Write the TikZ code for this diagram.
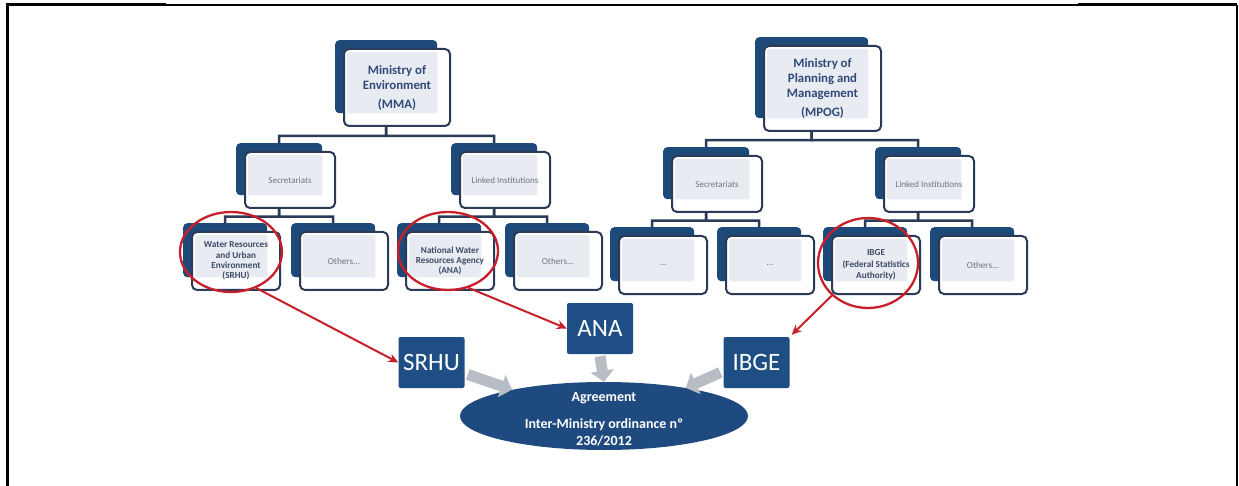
\documentclass[tikz,border=0pt]{standalone}
\usepackage{fontspec}
\setmainfont{Carlito}
\usetikzlibrary{shapes.geometric,arrows.meta,calc}
\definecolor{backblue}{HTML}{1E4A7A}
\definecolor{frontline}{HTML}{2B3B57}
\definecolor{panelc}{HTML}{E8EBF1}
\definecolor{tone}{HTML}{2F4A78}
\definecolor{ttwo}{HTML}{6B7585}
\definecolor{tthree}{HTML}{3D4B66}
\definecolor{sqblue}{HTML}{1F4E85}
\definecolor{ellblue}{HTML}{1F4A80}
\definecolor{greyarr}{HTML}{B8BCC4}
\definecolor{redc}{HTML}{C8202A}
\tikzset{
  backbox/.style={fill=backblue, rounded corners=4pt, inner sep=0pt, draw=none},
  frontbox/.style={fill=white, draw=frontline, line width=2pt, rounded corners=5pt, inner sep=0pt},
  lone/.style={font=\fontsize{12.8}{15}\selectfont\bfseries, text=tone},
  ltwo/.style={font=\fontsize{9}{11}\selectfont, text=ttwo},
  lthreeb/.style={font=\fontsize{9.2}{10.2}\selectfont\bfseries, text=tthree},
  lthree/.style={font=\fontsize{9.2}{10.2}\selectfont, text=ttwo},
  conn/.style={draw=frontline, line width=2.5pt},
  redcirc/.style={ellipse, draw=redc, line width=2.3pt, inner sep=0pt},
  redarrow/.style={draw=redc, line width=2pt, -{Stealth[length=10pt,width=9pt]}},
  sqbox/.style={fill=sqblue, rounded corners=2pt, text=white, font=\fontsize{25}{28}\selectfont, inner sep=0pt, minimum width=66pt, minimum height=51pt},
  garrow/.style={draw=greyarr, line width=11pt, -{Triangle[width=23pt,length=11pt]}},
}
\newcommand\orgbox[7]{%
  \node[backbox, minimum width=#4pt, minimum height=#5pt, anchor=north west] (#1b) at (#2,#3) {};
  \node[frontbox, minimum width=#4pt+4pt, minimum height=#5pt+4pt, anchor=north west] (#1f) at (#2+8,#3+8) {};
  \fill[panelc, rounded corners=1.5pt] ([shift={(4pt,-4pt)}]#1f.north west) rectangle (#1b.south east);
  \node[#6, align=center, inner sep=0pt] (#1) at (#1f.center) {#7};
}
\newcommand\orglink[2]{%
  \coordinate (#1o) at (#1b.center |- #1f.south);
  \draw[conn] (#1o) -- ($(#1o)!0.55!(#1o |- #2b.north)$) -| (#2b.north);
}
\begin{document}
\begin{tikzpicture}[x=1pt,y=-1pt]
\useasboundingbox (0,0) rectangle (1239,486);
% frame
\draw[line width=3pt] (7,486) -- (7,5) -- (166,5);
\draw[line width=1.2pt] (166,5) -- (1078,5);
\draw[line width=3pt] (1078,5) -- (1237,5);
\draw[line width=2pt] (1237,5) -- (1237,486);

% level 1
\orgbox{mma}{335}{40}{102}{73}{lone}{Ministry of\\Environment\\[4pt](MMA)}
\orgbox{mpog}{755}{37}{113}{81}{lone}{Ministry of\\Planning and\\Management\\[4pt](MPOG)}
% level 2
\orgbox{secl}{236}{143}{86}{52}{ltwo}{Secretariats}
\orgbox{linl}{451}{143}{86}{52}{ltwo}{Linked Institutions}
\orgbox{secr}{663}{147}{86}{52}{ltwo}{Secretariats}
\orgbox{linr}{875}{147}{86}{52}{ltwo}{Linked Institutions}
% level 3
\orgbox{srhu}{183}{223}{84}{54}{lthreeb}{Water Resources\\and Urban\\Environment\\(SRHU)}
\orgbox{otha}{291}{223}{84}{54}{lthree}{Others...}
\orgbox{ana}{397}{223}{84}{54}{lthreeb}{National Water\\Resources Agency\\(ANA)}
\orgbox{othb}{505}{223}{84}{54}{lthree}{Others...}
\orgbox{dota}{610}{227}{84}{54}{lthree}{...}
\orgbox{dotb}{717}{227}{84}{54}{lthree}{...}
\orgbox{ibge}{823}{227}{84}{54}{lthreeb}{IBGE\\[2pt](Federal Statistics\\[1pt]Authority)}
\orgbox{othc}{930}{227}{84}{54}{lthree}{Others...}

% connectors
\orglink{mma}{secl}
\orglink{mma}{linl}
\orglink{mpog}{secr}
\orglink{mpog}{linr}
\orglink{secl}{srhu}
\orglink{secl}{otha}
\orglink{linl}{ana}
\orglink{linl}{othb}
\orglink{secr}{dota}
\orglink{secr}{dotb}
\orglink{linr}{ibge}
\orglink{linr}{othc}

% red circles
\node[redcirc, minimum width=102pt, minimum height=80pt] (ca) at (231,252) {};
\node[redcirc, minimum width=100pt, minimum height=78pt] (cb) at (448,251) {};
\node[redcirc, minimum width=100pt, minimum height=90pt] (cc) at (868,263) {};

% squares
\node[sqbox] (sqsrhu) at (431.5,362.5) {SRHU};
\node[sqbox] (sqana) at (600,328.5) {ANA};
\node[sqbox] (sqibge) at (756.5,362.5) {IBGE};

% red arrows
\draw[redarrow] (ca.-55) -- (sqsrhu.west);
\draw[redarrow] (cb.-61) -- (sqana.west);
\draw[redarrow] (cc.-138) -- ([xshift=2pt,yshift=2pt]sqibge.north east);

% ellipse
\node[ellipse, fill=ellblue, minimum width=288pt, minimum height=68pt, inner sep=0pt] (agr) at (604,416) {};
% grey arrows
\draw[garrow] ([xshift=3pt,yshift=-12pt]sqsrhu.east) -- (agr.164);
\draw[garrow] (sqana.south) ++(0,2) -- (agr.north);
\draw[garrow] ([xshift=-3pt,yshift=-10pt]sqibge.west) -- (agr.19);
\node[text=white, font=\fontsize{14}{17}\selectfont\bfseries, align=center, inner sep=0pt] (agrtext) at ([yshift=-3pt]agr.center) {Agreement\\[10pt]Inter-Ministry ordinance nº\\236/2012};
\end{tikzpicture}
\end{document}
